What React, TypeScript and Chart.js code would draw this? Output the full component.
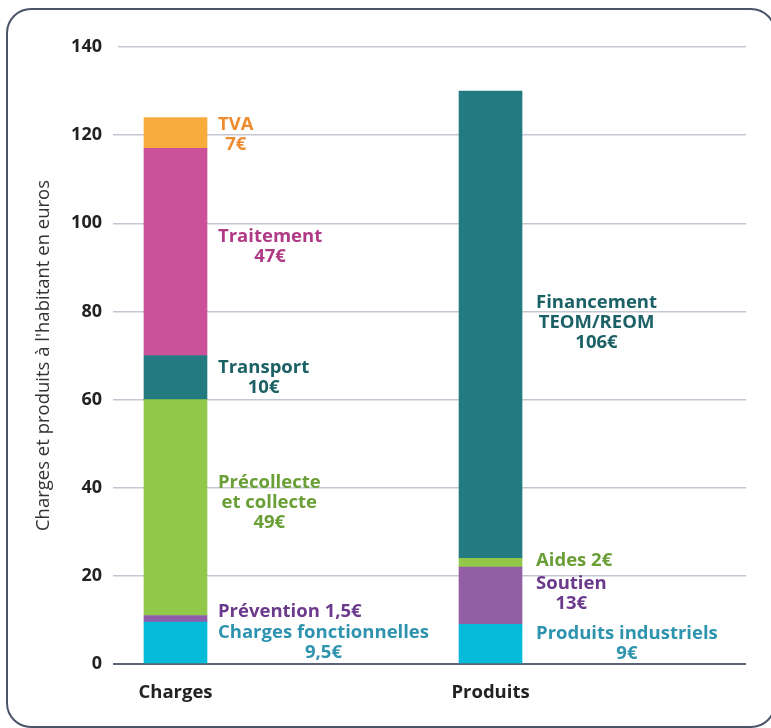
import React, { useEffect, useRef } from 'react';
import { Chart, registerables } from 'chart.js';

Chart.register(...registerables);

// ---------- data ----------
const categories = ['Charges', 'Produits'];

const chargeNames = ['Charges fonctionnelles', 'Prévention', 'Précollecte\net collecte', 'Transport', 'Traitement', 'TVA'];
const chargeValues = [9.5, 1.5, 49, 10, 47, 7];
const chargeInline = [false, true, false, false, false, false];

const produitNames = ['Produits industriels', 'Soutien', 'Aides', 'Financement\nTEOM/REOM'];
const produitValues = [9, 13, 2, 106];
const produitInline = [false, false, true, false];

const yMin = 0;
const yMax = 140;
const yStep = 20;

const yTitle = "Charges et produits à l'habitant en euros";

// ---------- styles ----------
const chargeBarColors = ['#06BBDA', '#8E5CA8', '#92C84A', '#237A80', '#CB529A', '#F9AC3D'];
const chargeTextColors = ['#2E93AE', '#6C3A8C', '#6A9E36', '#1C6166', '#B03A86', '#EE8B2E'];
const chargeLabelDy = [0, -7, -5, 0, -5, 2];
const chargeLabelGap = [11, 11, 11, 11, 11, 11];

const produitBarColors = ['#06BBDA', '#925FA5', '#92C84A', '#237A80'];
const produitTextColors = ['#2E93AE', '#6C3A8C', '#6A9E36', '#1C6166'];
const produitLabelDy = [0, -2, -2, -2];
const produitLabelGap = [14, 14, 14, 14];

const FONT = '"Open Sans"';
const euro = (v: number) => `${String(v).replace('.', ',')}€`;

function labelLines(name: string, value: number, inline: boolean): string[] {
  if (inline) return [`${name} ${euro(value)}`];
  return [...name.split('\n'), euro(value)];
}

function buildDatasets() {
  const ds: any[] = [];
  chargeValues.forEach((v, i) => {
    ds.push({
      label: chargeNames[i].replace('\n', ' '),
      data: [{ x: 0, y: v }],
      backgroundColor: chargeBarColors[i],
      stack: 'one',
      labelLines: labelLines(chargeNames[i], v, chargeInline[i]),
      labelColor: chargeTextColors[i],
      labelDy: chargeLabelDy[i],
      labelGap: chargeLabelGap[i],
    });
  });
  produitValues.forEach((v, i) => {
    ds.push({
      label: produitNames[i].replace('\n', ' '),
      data: [{ x: 1, y: v }],
      backgroundColor: produitBarColors[i],
      stack: 'one',
      labelLines: labelLines(produitNames[i], v, produitInline[i]),
      labelColor: produitTextColors[i],
      labelDy: produitLabelDy[i],
      labelGap: produitLabelGap[i],
    });
  });
  return ds;
}

const segLabelPlugin = {
  id: 'segLabels',
  afterDatasetsDraw(chart: any) {
    const ctx = chart.ctx;
    ctx.save();
    ctx.font = `bold 18.5px ${FONT}`;
    ctx.textAlign = 'center';
    ctx.textBaseline = 'middle';
    const lh = 20;
    chart.data.datasets.forEach((ds: any, di: number) => {
      const meta = chart.getDatasetMeta(di);
      const el: any = meta.data[0];
      if (!el) return;
      const lines: string[] = ds.labelLines;
      const w = Math.max(...lines.map((l) => ctx.measureText(l).width));
      const cx = el.x + el.width / 2 + ds.labelGap + w / 2;
      const cy = (el.y + el.base) / 2 + ds.labelDy;
      ctx.fillStyle = ds.labelColor;
      lines.forEach((l, k) => {
        ctx.fillText(l, cx, cy + (k - (lines.length - 1) / 2) * lh);
      });
    });
    ctx.restore();
  },
};

const framePlugin = {
  id: 'frame',
  beforeDraw(chart: any) {
    const ctx = chart.ctx;
    ctx.save();
    ctx.fillStyle = '#ffffff';
    ctx.fillRect(0, 0, chart.width, chart.height);
    ctx.restore();
  },
  afterDraw(chart: any) {
    const ctx = chart.ctx;
    ctx.save();
    ctx.strokeStyle = '#4B5569';
    ctx.lineWidth = 2;
    ctx.beginPath();
    (ctx as any).roundRect(7, 9, 768, 718, 24);
    ctx.stroke();
    ctx.restore();
  },
};

export default function App() {
  const ref = useRef<HTMLCanvasElement | null>(null);

  useEffect(() => {
    document.body.style.margin = '0';
    const canvas = ref.current;
    if (!canvas) return;
    const chart = new Chart(canvas, {
      type: 'bar',
      data: { datasets: buildDatasets() },
      options: {
        animation: false,
        responsive: false,
        devicePixelRatio: 1,
        layout: { padding: { top: 47, right: 25, left: 0, bottom: 0 } },
        plugins: {
          legend: { display: false },
          tooltip: { enabled: false },
        },
        datasets: { bar: { barThickness: 63, borderWidth: 0 } } as any,
        scales: {
          x: {
            type: 'linear',
            offset: false,
            min: -0.1825,
            max: 1.811,
            grid: { display: false },
            border: { display: false },
            afterBuildTicks: (scale: any) => {
              scale.ticks = categories.map((_, i) => ({ value: i }));
            },
            afterFit: (scale: any) => {
              scale.height = 64;
            },
            ticks: {
              callback: (v: any) => categories[v] ?? '',
              color: '#222222',
              font: { family: FONT, size: 18.5, weight: 'bold' },
              padding: 10,
              maxRotation: 0,
              autoSkip: false,
            },
          },
          y: {
            stacked: true,
            min: yMin,
            max: yMax,
            border: { display: false },
            grid: {
              color: (c: any) => (c.tick && c.tick.value === 0 ? '#5B6479' : '#C3C7D3'),
              lineWidth: (c: any) => (c.tick && c.tick.value === 0 ? 2 : 1.5),
              tickColor: (c: any) => (c.tick && c.tick.value === yMax ? 'rgba(0,0,0,0)' : c.tick && c.tick.value === 0 ? '#5B6479' : '#C3C7D3'),
              tickLength: 5,
            },
            afterFit: (scale: any) => {
              scale.width = 118;
            },
            ticks: {
              stepSize: yStep,
              color: '#222222',
              font: { family: FONT, size: 18, weight: 'bold' },
              padding: 11,
            },
            title: {
              display: true,
              text: yTitle,
              color: '#333333',
              font: { family: FONT, size: 18.5, weight: 'normal' },
              padding: { top: 33, bottom: 0 },
            },
          },
        },
      } as any,
      plugins: [segLabelPlugin, framePlugin],
    });
    return () => chart.destroy();
  }, []);

  return (
    <div style={{ width: 771, height: 728 }}>
      <canvas ref={ref} width={771} height={728} style={{ display: 'block', width: 771, height: 728 }} />
    </div>
  );
}
